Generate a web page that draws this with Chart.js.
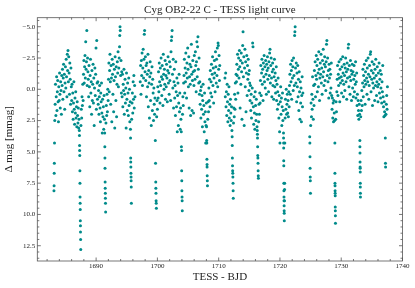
<!DOCTYPE html>
<html>
<head>
<meta charset="utf-8">
<script src="https://cdn.jsdelivr.net/npm/chart.js@4"></script>
<style>
html, body { margin: 0; padding: 0; background: #fff; }
#wrap { width: 415px; height: 288px; }
</style>
</head>
<body>
<div id="wrap"><canvas id="lc"></canvas></div>
<script>
// Cyg OB2-22 C, TESS light curve: [BJD, delta mag in mmag]
var seg1 = [[1683.12,8.1],[1683.14,7.7],[1683.16,6.7],[1683.18,5.9],[1683.21,4.3],
  [1683.25,2.5],[1683.31,1.2],[1683.37,-0.4],[1683.43,2.1],[1683.49,0.6],[1683.55,-1.0],[1683.61,1.7],[1683.67,0.2],[1683.73,-0.7],[1683.79,1.0],[1683.85,2.6],[1683.91,-0.2],[1683.97,0.9],[1684.03,-1.3],[1684.09,0.4],[1684.15,1.5],[1684.21,-0.6],[1684.27,0.1],[1684.33,2.0],[1684.39,-1.1],
  [1684.45,-0.3],[1684.51,-1.6],[1684.57,0.8],[1684.63,-0.9],[1684.69,-2.0],[1684.75,0.2],[1684.81,-1.2],[1684.87,1.6],[1684.93,-0.5],[1684.99,-1.8],[1685.05,-0.1],[1685.11,-2.4],[1685.17,-1.0],[1685.23,0.6],[1685.29,-2.8],[1685.35,-1.5],[1685.41,-3.1],[1685.47,-0.6],[1685.53,-2.6],[1685.59,-1.3],[1685.65,0.4],[1685.71,-2.1],[1685.77,-0.8],[1685.83,1.2],[1685.89,-1.7],[1685.95,-0.2],
  [1686.01,0.9],[1686.07,-0.4],[1686.13,1.8],[1686.19,0.3],[1686.25,2.4],[1686.31,1.1],[1686.37,-0.6],[1686.43,1.6],[1686.49,2.8],[1686.55,0.7],[1686.61,1.9],[1686.67,0.2],[1686.73,2.3],[1686.79,1.4],[1686.85,3.0],[1686.91,1.0],[1686.97,2.1],[1687.03,2.7],[1687.09,1.5],[1687.15,3.1],[1687.21,2.4],
  [1687.26,3.3],[1687.28,3.7],[1687.30,4.5],[1687.31,4.9],[1687.33,5.3],[1687.35,6.5],[1687.36,7.5],[1687.38,8.6],[1687.39,9.1],[1687.41,9.6],[1687.42,10.5],[1687.44,10.9],[1687.45,11.4],[1687.47,12.0],[1687.49,12.8]];

var seg2 = [[1687.52,2.9],[1687.58,1.6],[1687.64,2.3],[1687.70,0.6],[1687.76,1.3],[1687.82,-0.4],[1687.88,0.9],
  [1687.94,-1.2],[1688.00,-2.3],[1688.06,-0.5],[1688.12,-1.8],[1688.18,-2.7],[1688.24,-0.9],[1688.30,-3.8],[1688.36,-1.6],[1688.42,-2.2],[1688.48,-4.7],[1688.54,-0.3],[1688.60,-2.5],[1688.66,-1.4],
  [1688.72,-0.8],[1688.78,0.6],[1688.84,-1.9],[1688.90,-0.2],[1688.96,1.4],[1689.02,-1.1],[1689.08,-2.4],[1689.14,0.3],[1689.20,-0.6],[1689.26,2.0],[1689.32,-1.5],[1689.38,0.9],[1689.44,-0.4],[1689.50,-2.0],[1689.56,1.1],[1689.62,-0.9],[1689.68,2.9],[1689.74,-0.1],[1689.80,-1.7],[1689.86,0.5],[1689.92,-1.2],[1689.98,-3.3],[1690.04,1.6],[1690.10,-3.9],[1690.16,-0.5],[1690.22,0.8],
  [1690.28,-0.6],[1690.34,1.2],[1690.40,0.1],[1690.46,2.0],[1690.52,0.6],[1690.58,-0.3],[1690.64,1.5],[1690.70,2.6],[1690.76,0.3],[1690.82,1.0],[1690.88,-0.5],[1690.94,1.9],[1691.00,3.5],[1691.06,0.8],[1691.12,2.2],[1691.18,1.4],[1691.24,3.2],[1691.30,0.5],[1691.36,2.4],
  [1691.40,3.5],[1691.42,4.6],[1691.44,5.5],[1691.45,6.3],[1691.47,7.4],[1691.48,7.9],[1691.50,8.3],[1691.51,8.7],[1691.53,9.1],[1691.55,9.8]];

var seg3 = [[1691.60,2.7],[1691.66,1.3],[1691.72,2.1],[1691.78,0.4],[1691.84,1.8],[1691.90,0.0],[1691.96,0.9],
  [1692.02,-0.8],[1692.08,-2.1],[1692.14,0.2],[1692.20,-1.5],[1692.26,-2.8],[1692.32,-0.6],[1692.38,1.2],[1692.44,-1.9],[1692.50,-0.9],[1692.56,2.6],[1692.62,-2.4],[1692.68,-1.2],[1692.74,0.4],[1692.80,-2.0],[1692.86,1.8],[1692.92,-0.7],[1692.98,-1.6],[1693.04,3.1],[1693.10,-2.6],[1693.16,-1.0],[1693.22,0.9],[1693.28,-1.8],[1693.34,2.2],[1693.40,-0.4],[1693.46,-2.2],[1693.52,-1.3],[1693.58,-3.0],[1693.64,-0.2],[1693.70,-1.7],[1693.76,-2.5],[1693.82,-3.4],[1693.86,-4.3],[1693.90,-5.0],[1693.94,-4.7],[1694.00,-1.1],[1694.06,-2.3],[1694.12,0.3],[1694.18,-1.4],
  [1694.24,0.6],[1694.30,-1.2],[1694.36,1.4],[1694.42,-0.4],[1694.48,0.1],[1694.54,-1.6],[1694.60,2.0],[1694.66,0.4],[1694.72,-0.8],[1694.78,1.1],[1694.84,-0.1],[1694.90,3.1],[1694.96,-1.3],[1695.02,0.8],[1695.08,1.7],[1695.14,-0.5],[1695.20,0.3],[1695.26,2.1],[1695.32,-0.9],[1695.38,1.3],[1695.44,0.0],[1695.50,2.6],[1695.56,1.0],
  [1695.60,3.2],[1695.62,3.9],[1695.64,5.5],[1695.65,5.8],[1695.67,6.2],[1695.68,6.7],[1695.70,7.0],[1695.71,7.3],[1695.73,7.8],[1695.75,9.1],
  [1695.80,2.4],[1695.86,1.1],[1695.92,0.3],[1695.98,1.9],[1696.04,-0.6],[1696.10,0.8],[1696.16,-1.1],[1696.22,1.5],[1696.28,-0.3],[1696.34,0.6]];

var seg4 = [[1697.20,-0.6],[1697.26,-1.9],[1697.32,0.4],[1697.38,-2.3],[1697.44,-1.1],[1697.50,-2.9],[1697.56,-0.3],[1697.62,-1.7],[1697.68,-3.2],[1697.74,-0.9],[1697.80,-2.4],[1697.86,-4.4],[1697.92,-4.7],[1697.98,-1.4],[1698.04,-2.6],[1698.10,-0.7],[1698.16,-1.9],[1698.22,0.6],[1698.28,-2.1],[1698.34,-1.2],[1698.40,-0.2],[1698.46,-2.8],[1698.52,1.4],[1698.58,-1.5],[1698.64,-0.5],[1698.70,2.3],[1698.76,-1.0],[1698.82,-2.2],[1698.88,0.9],[1698.94,-1.3],[1699.00,2.9],[1699.06,-0.4],[1699.12,-1.8],[1699.18,1.7],[1699.24,-0.8],[1699.30,0.3],[1699.36,2.5],[1699.42,-0.1],[1699.48,1.2],[1699.54,2.0],[1699.60,0.7],
  [1699.66,4.1],[1699.70,5.9],[1699.73,7.4],[1699.75,7.9],[1699.77,8.3],[1699.79,8.9],[1699.81,9.1],[1699.83,9.5]];

var seg5 = [[1699.88,2.2],[1699.94,0.9],[1700.00,1.6],[1700.06,-0.2],[1700.12,0.7],
  [1700.18,-1.4],[1700.24,0.2],[1700.30,-2.1],[1700.36,-0.6],[1700.42,1.1],[1700.48,-1.7],[1700.54,-0.3],[1700.60,-2.5],[1700.66,-1.0],[1700.72,0.5],[1700.78,-1.9],[1700.84,-0.8],[1700.90,1.3],[1700.96,-2.8],[1701.02,-1.2],[1701.08,0.0],[1701.14,-1.6],[1701.20,-0.4],[1701.26,-2.3],[1701.32,0.8],[1701.38,-1.1],[1701.44,-0.2],[1701.50,-2.0],[1701.56,-0.9],[1701.62,1.0],[1701.68,-1.5],[1701.74,-2.6],[1701.80,-0.5],[1701.86,-1.3],[1701.92,0.4],[1701.98,-2.2],[1702.04,-0.7],[1702.10,-1.8],[1702.16,0.9],[1702.22,-3.0],[1702.28,-3.9],[1702.34,-4.2],[1702.40,-4.7],[1702.46,-1.2],[1702.52,-0.1],[1702.58,-2.4],[1702.64,1.5],[1702.70,-0.6],
  [1702.76,-1.6],[1702.82,0.7],[1702.88,-0.3],[1702.94,2.1],[1703.00,-2.2],[1703.06,0.2],[1703.12,1.4],[1703.18,-0.9],[1703.24,3.4],[1703.30,0.5],[1703.36,-0.5],[1703.42,2.9],[1703.48,1.1],[1703.54,-1.2],[1703.60,1.8],[1703.66,0.3],[1703.72,3.2],[1703.78,1.5],[1703.84,2.4],
  [1703.90,3.4],[1703.92,4.6],[1703.94,4.9],[1703.96,6.5],[1703.98,7.3],[1704.00,8.1],[1704.02,8.6],[1704.04,8.9],[1704.06,9.7]];

var seg6 = [[1704.10,2.0],[1704.16,0.6],[1704.22,1.3],[1704.28,-0.5],
  [1704.34,-1.1],[1704.40,-2.4],[1704.46,0.3],[1704.52,-1.7],[1704.58,-0.6],[1704.64,-2.9],[1704.70,-1.3],[1704.76,0.7],[1704.82,-2.1],[1704.88,-0.9],[1704.94,-3.3],[1705.00,-1.6],[1705.06,-0.2],[1705.12,-2.6],[1705.18,1.5],[1705.24,-1.0],[1705.30,-2.0],[1705.36,-0.4],[1705.42,2.1],[1705.48,-1.8],[1705.54,-3.6],[1705.60,-1.2],[1705.66,1.7],[1705.72,-0.7],[1705.78,-2.3],[1705.84,-1.4],[1705.90,1.9],[1705.96,-0.3],[1706.02,-2.7],[1706.08,-1.5],[1706.14,-0.8],[1706.20,-3.0],[1706.26,-1.9],[1706.32,0.2],[1706.38,-2.2],[1706.44,-3.8],[1706.50,-1.0],[1706.56,-3.4],[1706.62,-4.2],[1706.68,-1.6],[1706.74,-0.5],[1706.80,-2.5],[1706.86,0.4],
  [1706.92,-0.6],[1706.98,1.2],[1707.04,0.1],[1707.10,2.3],[1707.16,-0.2],[1707.22,1.6],[1707.28,0.5],[1707.34,3.0],[1707.40,0.9],[1707.46,-0.4],[1707.52,2.0],[1707.58,1.3],[1707.64,3.4],[1707.70,0.3],[1707.76,2.6],[1707.82,1.8],[1707.88,4.3],[1707.94,2.9],[1707.98,1.1],
  [1708.02,3.0],[1708.04,4.1],[1708.06,4.3],[1708.08,5.6],[1708.10,6.0],[1708.11,6.2],[1708.13,6.9],[1708.15,7.3],[1708.17,7.7]];

var seg7 = [[1708.22,2.4],[1708.28,1.0],[1708.34,1.8],[1708.40,-0.1],[1708.46,0.9],[1708.52,-0.8],[1708.58,1.4],[1708.64,-1.5],[1708.70,0.3],[1708.76,-0.6],[1708.82,-2.0],[1708.88,0.6],[1708.94,-1.2],[1709.00,-2.6],[1709.06,-0.3],[1709.12,-1.7],[1709.18,1.1],[1709.24,-0.9],[1709.30,-2.3],[1709.36,-1.3],[1709.42,0.2],[1709.48,-3.0],[1709.54,-1.8],[1709.60,-0.5],[1709.66,-2.4],[1709.72,-1.1],[1709.78,-3.3],[1709.84,-0.2],[1709.90,-3.7],[1709.94,-3.5],[1710.00,-1.6],[1710.06,-2.7],[1710.12,-0.7],[1710.18,-1.9]];

var seg8 = [[1711.02,-0.9],[1711.08,0.6],[1711.14,-1.3],[1711.20,1.4],[1711.26,0.2],[1711.32,2.1],[1711.38,-0.4],[1711.44,1.0],[1711.50,2.6],[1711.56,0.4],[1711.62,1.7],[1711.68,-0.2],[1711.74,2.3],[1711.80,1.2],[1711.86,2.9],[1711.92,0.8],[1711.98,1.9],[1712.04,2.5],[1712.10,1.4],[1712.16,3.3],
  [1712.20,3.8],[1712.22,4.5],[1712.24,5.5],[1712.26,6.1],[1712.28,6.5],[1712.30,6.7],[1712.32,7.0],[1712.34,7.5],[1712.36,8.1],[1712.38,8.7]];

var seg9 = [[1712.42,2.7],[1712.48,1.5],[1712.54,2.2],[1712.60,0.4],[1712.66,1.6],[1712.72,-0.5],[1712.78,0.8],[1712.84,-1.2],
  [1712.90,-0.6],[1712.96,-2.0],[1713.02,-1.1],[1713.08,-2.8],[1713.14,0.3],[1713.20,-1.6],[1713.26,-2.5],[1713.32,-0.9],[1713.38,-3.1],[1713.44,-1.8],[1713.50,1.5],[1713.56,-2.3],[1713.62,-0.4],[1713.68,-2.9],[1713.74,-1.4],[1713.80,2.4],[1713.86,-2.1],[1713.92,-3.5],[1713.98,-4.6],[1714.04,-1.0],[1714.10,-2.6],[1714.16,2.9],[1714.22,-1.7],[1714.28,-3.2],[1714.34,-0.2],[1714.40,-2.2],[1714.46,1.8],[1714.52,-1.3],[1714.58,-2.7],[1714.64,0.5],[1714.70,-1.9],[1714.76,-0.8],[1714.82,-2.4],[1714.88,-1.2],[1714.94,0.1],[1715.00,-1.5],[1715.06,-0.5],
  [1715.12,0.9],[1715.18,-0.3],[1715.24,1.7],[1715.30,0.4],[1715.36,2.3],[1715.42,1.1],[1715.48,-0.1],[1715.54,-3.7],[1715.60,-3.4],[1715.66,1.4],[1715.72,2.8],[1715.78,0.6],[1715.84,1.9],[1715.90,3.2],[1715.96,0.2],[1716.02,1.3],[1716.08,2.5],[1716.14,0.8],[1716.20,2.0],[1716.26,3.0],
  [1716.30,3.3],[1716.32,3.6],[1716.34,3.9],[1716.36,4.6],[1716.38,5.3],[1716.40,5.5],[1716.42,5.9],[1716.44,6.5],[1716.46,6.9],[1716.48,7.1]];

var seg10 = [[1716.52,2.6],[1716.58,1.2],[1716.64,2.0],[1716.70,0.3],[1716.76,1.1],
  [1716.82,-0.7],[1716.88,-1.9],[1716.94,0.5],[1717.00,-1.3],[1717.06,-2.4],[1717.12,-0.4],[1717.18,-1.6],[1717.24,0.9],[1717.30,-2.1],[1717.36,-1.0],[1717.42,-2.7],[1717.48,-0.6],[1717.54,-1.8],[1717.60,-0.1],[1717.66,-2.3],[1717.72,-1.2],[1717.78,0.4],[1717.84,-2.0],[1717.90,-1.5],[1717.96,-2.6],[1718.02,-0.8],[1718.08,-1.7],[1718.14,0.2],[1718.20,-2.2],[1718.26,-1.1],[1718.32,-2.9],[1718.38,-3.2],[1718.44,-0.5],[1718.50,-1.9],[1718.56,-2.5],[1718.62,-0.9],[1718.68,0.6],[1718.74,-1.4],[1718.80,-2.1],[1718.86,-0.3],[1718.92,-1.6],[1718.98,0.8],[1719.04,-1.0],[1719.10,-2.4],[1719.16,-0.2],[1719.22,-1.3],[1719.28,0.3],[1719.34,-0.7],[1719.40,-1.8],
  [1719.46,0.9],[1719.52,-0.4],[1719.58,1.6],[1719.64,0.2],[1719.70,-0.9],[1719.76,1.2],[1719.82,2.3],[1719.88,0.5],[1719.94,3.4],[1720.00,4.3],[1720.06,1.0],[1720.12,-0.2],[1720.18,2.0],[1720.24,0.7],[1720.30,2.9],[1720.36,1.4],[1720.42,0.3],[1720.48,2.5],[1720.54,1.7],
  [1720.58,3.5],[1720.59,3.9],[1720.60,4.3],[1720.61,4.7],[1720.62,5.7],[1720.63,6.1],[1720.64,7.5],[1720.65,8.1],[1720.66,8.6],[1720.67,8.9],[1720.68,9.3],[1720.69,9.7],[1720.70,9.9],[1720.71,10.5],[1720.73,8.9],[1720.75,8.0],[1720.77,7.5],[1720.79,4.3]];

var seg11 = [[1720.84,2.3],[1720.90,0.8],[1720.96,1.6],[1721.02,0.0],[1721.08,2.0],[1721.14,1.2],[1721.20,0.4],[1721.26,1.9],[1721.32,0.9],[1721.38,2.2],[1721.44,0.2],[1721.50,1.4],[1721.56,-0.3],
  [1721.62,-1.2],[1721.68,0.4],[1721.74,-2.0],[1721.80,-0.6],[1721.86,-1.5],[1721.92,0.8],[1721.98,-2.3],[1722.04,-0.9],[1722.10,-1.8],[1722.16,0.1],[1722.22,-2.5],[1722.28,-1.1],[1722.34,-0.3],[1722.40,-4.3],[1722.44,-4.6],[1722.48,-5.0],[1722.54,-1.7],[1722.60,-0.5],[1722.66,-2.1],[1722.72,1.0],[1722.78,-1.3],[1722.84,-0.2],[1722.90,-1.9],[1722.96,0.6],[1723.02,-0.8],[1723.08,1.7],[1723.14,-1.4],[1723.20,0.2],[1723.26,2.4],[1723.32,-0.6],[1723.38,1.1],[1723.44,-0.1],[1723.50,2.6],[1723.56,0.5],[1723.62,-1.0],[1723.68,1.4],[1723.74,0.3]];

var seg12 = [[1724.86,3.8],[1724.88,4.3],[1724.90,5.4],[1724.92,6.3],[1724.94,7.0],[1724.96,7.3],[1724.98,8.3],
  [1725.02,2.9],[1725.08,1.1],[1725.14,2.2],[1725.20,0.4],[1725.26,1.6],[1725.32,-1.0],[1725.38,0.8],[1725.44,2.4],[1725.50,-0.3],[1725.56,1.3],
  [1725.62,-1.5],[1725.68,-0.4],[1725.74,-2.2],[1725.80,0.6],[1725.86,-1.1],[1725.92,-2.7],[1725.98,-0.8],[1726.04,-1.9],[1726.10,0.2],[1726.16,-2.4],[1726.22,-1.3],[1726.28,-0.2],[1726.34,-3.0],[1726.40,-1.6],[1726.46,0.9],[1726.52,-0.9],[1726.58,-2.1],[1726.64,-1.2],[1726.70,-2.8],[1726.76,-0.5],[1726.82,-1.7],[1726.88,0.4],[1726.94,-2.3],[1727.00,-1.0],[1727.06,-3.2],[1727.12,-1.4],[1727.18,-0.3],[1727.24,-2.0],[1727.30,-2.6],[1727.36,-0.7],[1727.42,-1.8],[1727.48,0.1],[1727.54,-2.2],[1727.60,-3.6],[1727.66,-3.9],[1727.72,-1.1],[1727.78,-2.5],[1727.84,-0.6],[1727.90,-1.5],[1727.96,0.7],[1728.02,-2.0],[1728.08,-0.9],[1728.14,-1.6],[1728.20,0.3],[1728.26,-1.2],[1728.32,-0.1],[1728.38,-2.1],[1728.44,0.5],
  [1728.50,1.6],[1728.56,0.7],[1728.62,2.3],[1728.68,1.1],[1728.74,2.6],[1728.80,0.9],[1728.86,1.9],[1728.92,2.5],
  [1728.96,4.3],[1728.97,6.7],[1728.98,7.5],[1728.99,7.7],[1729.00,8.1],[1729.01,8.3],[1729.02,8.5],[1729.03,9.4],[1729.04,9.7],[1729.05,10.1],[1729.06,10.7]];

var seg13 = [[1729.10,2.4],[1729.16,1.0],[1729.22,1.8],[1729.28,0.2],
  [1729.34,-0.8],[1729.40,-1.9],[1729.46,0.5],[1729.52,-1.2],[1729.58,-0.3],[1729.64,-2.2],[1729.70,-0.9],[1729.76,1.0],[1729.82,-1.6],[1729.88,-0.5],[1729.94,-2.4],[1730.00,-1.0],[1730.06,0.3],[1730.12,-1.8],[1730.18,-0.7],[1730.24,-2.6],[1730.30,-1.3],[1730.36,0.6],[1730.42,-0.4],[1730.48,-2.0],[1730.54,-1.1],[1730.60,0.1],[1730.66,-1.7],[1730.72,-2.5],[1730.78,-0.6],[1730.84,-1.4],[1730.90,0.8],[1730.96,-2.1],[1731.02,-0.9],[1731.08,-1.6],[1731.14,-3.3],[1731.20,-3.6],[1731.26,-0.2],[1731.32,-1.9],[1731.38,-1.0],[1731.44,0.4],[1731.50,-2.3],[1731.56,-0.7],[1731.62,-1.5],[1731.68,0.9],[1731.74,-1.2],[1731.80,-2.0],[1731.86,-0.1],[1731.92,-1.4],[1731.98,0.6],[1732.04,-0.8],[1732.10,-1.9],[1732.16,0.2],[1732.22,-1.1],[1732.28,-0.4],[1732.34,-2.2],[1732.40,0.7],[1732.46,-0.6],[1732.52,-1.3],
  [1732.58,1.3],[1732.64,0.4],[1732.70,2.1],[1732.76,0.9],[1732.82,1.7],[1732.88,2.4],[1732.94,1.2],[1733.00,2.0],
  [1733.04,4.1],[1733.05,4.6],[1733.06,5.1],[1733.07,5.8],[1733.08,6.2],[1733.09,6.3],[1733.10,6.6],[1733.11,7.5],[1733.12,7.8],[1733.13,8.3],[1733.14,8.6]];

var seg14 = [[1733.18,2.2],[1733.24,0.9],[1733.30,1.7],[1733.36,0.1],[1733.42,1.3],
  [1733.48,-0.5],[1733.54,-1.6],[1733.60,0.6],[1733.66,-1.1],[1733.72,-0.2],[1733.78,-2.0],[1733.84,-0.7],[1733.90,1.2],[1733.96,-1.4],[1734.02,-0.4],[1734.08,-2.3],[1734.14,-0.9],[1734.20,0.4],[1734.26,-1.7],[1734.32,-0.6],[1734.38,-2.5],[1734.44,-1.2],[1734.50,0.8],[1734.56,-0.3],[1734.62,-1.9],[1734.68,-1.0],[1734.74,-2.8],[1734.80,-3.0],[1734.86,0.2],[1734.92,-1.5],[1734.98,-0.8],[1735.04,-2.2],[1735.10,1.3],[1735.16,-0.5],[1735.22,-1.3],[1735.28,-0.1],[1735.34,-2.0],[1735.40,-0.9],[1735.46,0.9],[1735.52,-1.6],[1735.58,-0.3],[1735.64,-2.4],[1735.70,-1.1],[1735.76,0.5],[1735.82,-0.6],[1735.88,-1.8],[1735.94,-0.2],[1736.00,1.0],[1736.06,-1.3],[1736.12,-0.4],[1736.18,-2.1],[1736.24,0.3],[1736.30,-0.8],[1736.36,-1.5],[1736.42,0.7],[1736.48,-0.1],[1736.54,-1.2],[1736.60,1.1],[1736.66,-0.6],[1736.72,0.2],[1736.78,-1.9],[1736.84,0.6],
  [1736.90,1.4],[1736.96,2.2],[1737.02,1.0],[1737.08,1.8],[1737.14,2.1],
  [1737.20,3.9],[1737.22,5.9],[1737.24,6.2],
  [1737.30,2.0],[1737.36,1.2],[1737.42,0.5],[1737.48,1.6],[1737.54,-0.2]];

var xTicks = [1690, 1700, 1710, 1720, 1730, 1740];
var yTicks = [-5, -2.5, 0, 2.5, 5, 7.5, 10, 12.5];

var allPoints = [seg1, seg2, seg3, seg4, seg5, seg6, seg7, seg8, seg9, seg10, seg11, seg12, seg13, seg14]
  .flat().map(function (p) { return { x: p[0], y: p[1] }; });

var serif = 'Liberation Serif';

// matplotlib style frame with inward ticks on every side
var inwardTicks = {
  id: 'inwardTicks',
  afterDraw: function (chart) {
    var c = chart.ctx, a = chart.chartArea;
    var xs = chart.scales.x, ys = chart.scales.y;
    c.save();
    c.strokeStyle = '#555';
    c.lineWidth = 0.8;
    c.strokeRect(a.left, a.top, a.right - a.left, a.bottom - a.top);
    c.beginPath();
    for (var v = Math.ceil(xs.min / 2) * 2; v <= xs.max; v += 2) {
      var len = xTicks.indexOf(v) >= 0 ? 3.5 : 2;
      var px = xs.getPixelForValue(v);
      c.moveTo(px, a.bottom); c.lineTo(px, a.bottom - len);
      c.moveTo(px, a.top); c.lineTo(px, a.top + len);
    }
    for (var k = Math.ceil(ys.min / 0.5); k * 0.5 <= ys.max; k++) {
      var ylen = k % 5 === 0 ? 3.5 : 2;
      var py = ys.getPixelForValue(k * 0.5);
      c.moveTo(a.left, py); c.lineTo(a.left + ylen, py);
      c.moveTo(a.right, py); c.lineTo(a.right - ylen, py);
    }
    c.stroke();
    c.restore();
  }
};

new Chart(document.getElementById('lc'), {
  type: 'scatter',
  data: {
    datasets: [{
      data: allPoints,
      backgroundColor: '#008b8b',
      borderWidth: 0,
      pointRadius: 1.5,
      pointHoverRadius: 1.5
    }]
  },
  options: {
    responsive: true,
    maintainAspectRatio: false,
    animation: false,
    layout: { padding: { left: 0, right: 12.5, top: 0, bottom: 0 } },
    plugins: {
      legend: { display: false },
      tooltip: { enabled: false },
      title: {
        display: true,
        fullSize: false,
        text: 'Cyg OB2-22 C - TESS light curve',
        color: '#222',
        font: { family: serif, size: 11, weight: 'normal' },
        padding: { top: 3.9, bottom: 0.6 }
      }
    },
    scales: {
      x: {
        type: 'linear',
        min: 1680.4,
        max: 1740,
        grid: { display: false, drawTicks: false },
        border: { display: false },
        afterBuildTicks: function (s) { s.ticks = xTicks.map(function (v) { return { value: v }; }); },
        afterFit: function (s) { s.height = 27; },
        ticks: {
          color: '#222',
          font: { family: serif, size: 7 },
          padding: 1,
          maxRotation: 0,
          autoSkip: false,
          callback: function (v) { return String(v); }
        },
        title: {
          display: true,
          text: 'TESS - BJD',
          color: '#222',
          font: { family: serif, size: 11 },
          padding: { top: 0, bottom: 4.4 }
        }
      },
      y: {
        type: 'linear',
        reverse: true,
        min: -5.72,
        max: 13.72,
        grid: { display: false, drawTicks: false },
        border: { display: false },
        afterBuildTicks: function (s) { s.ticks = yTicks.map(function (v) { return { value: v }; }); },
        afterFit: function (s) { s.width = 37.3; },
        ticks: {
          color: '#222',
          font: { family: serif, size: 7 },
          padding: 2,
          callback: function (v) { return (v < 0 ? '\u2212' : '') + Math.abs(v).toFixed(1); }
        },
        title: {
          display: true,
          text: 'Δ mag [mmag]',
          color: '#222',
          font: { family: serif, size: 11 },
          padding: { top: 2.9, bottom: 0 }
        }
      }
    }
  },
  plugins: [inwardTicks]
});
</script>
</body>
</html>
